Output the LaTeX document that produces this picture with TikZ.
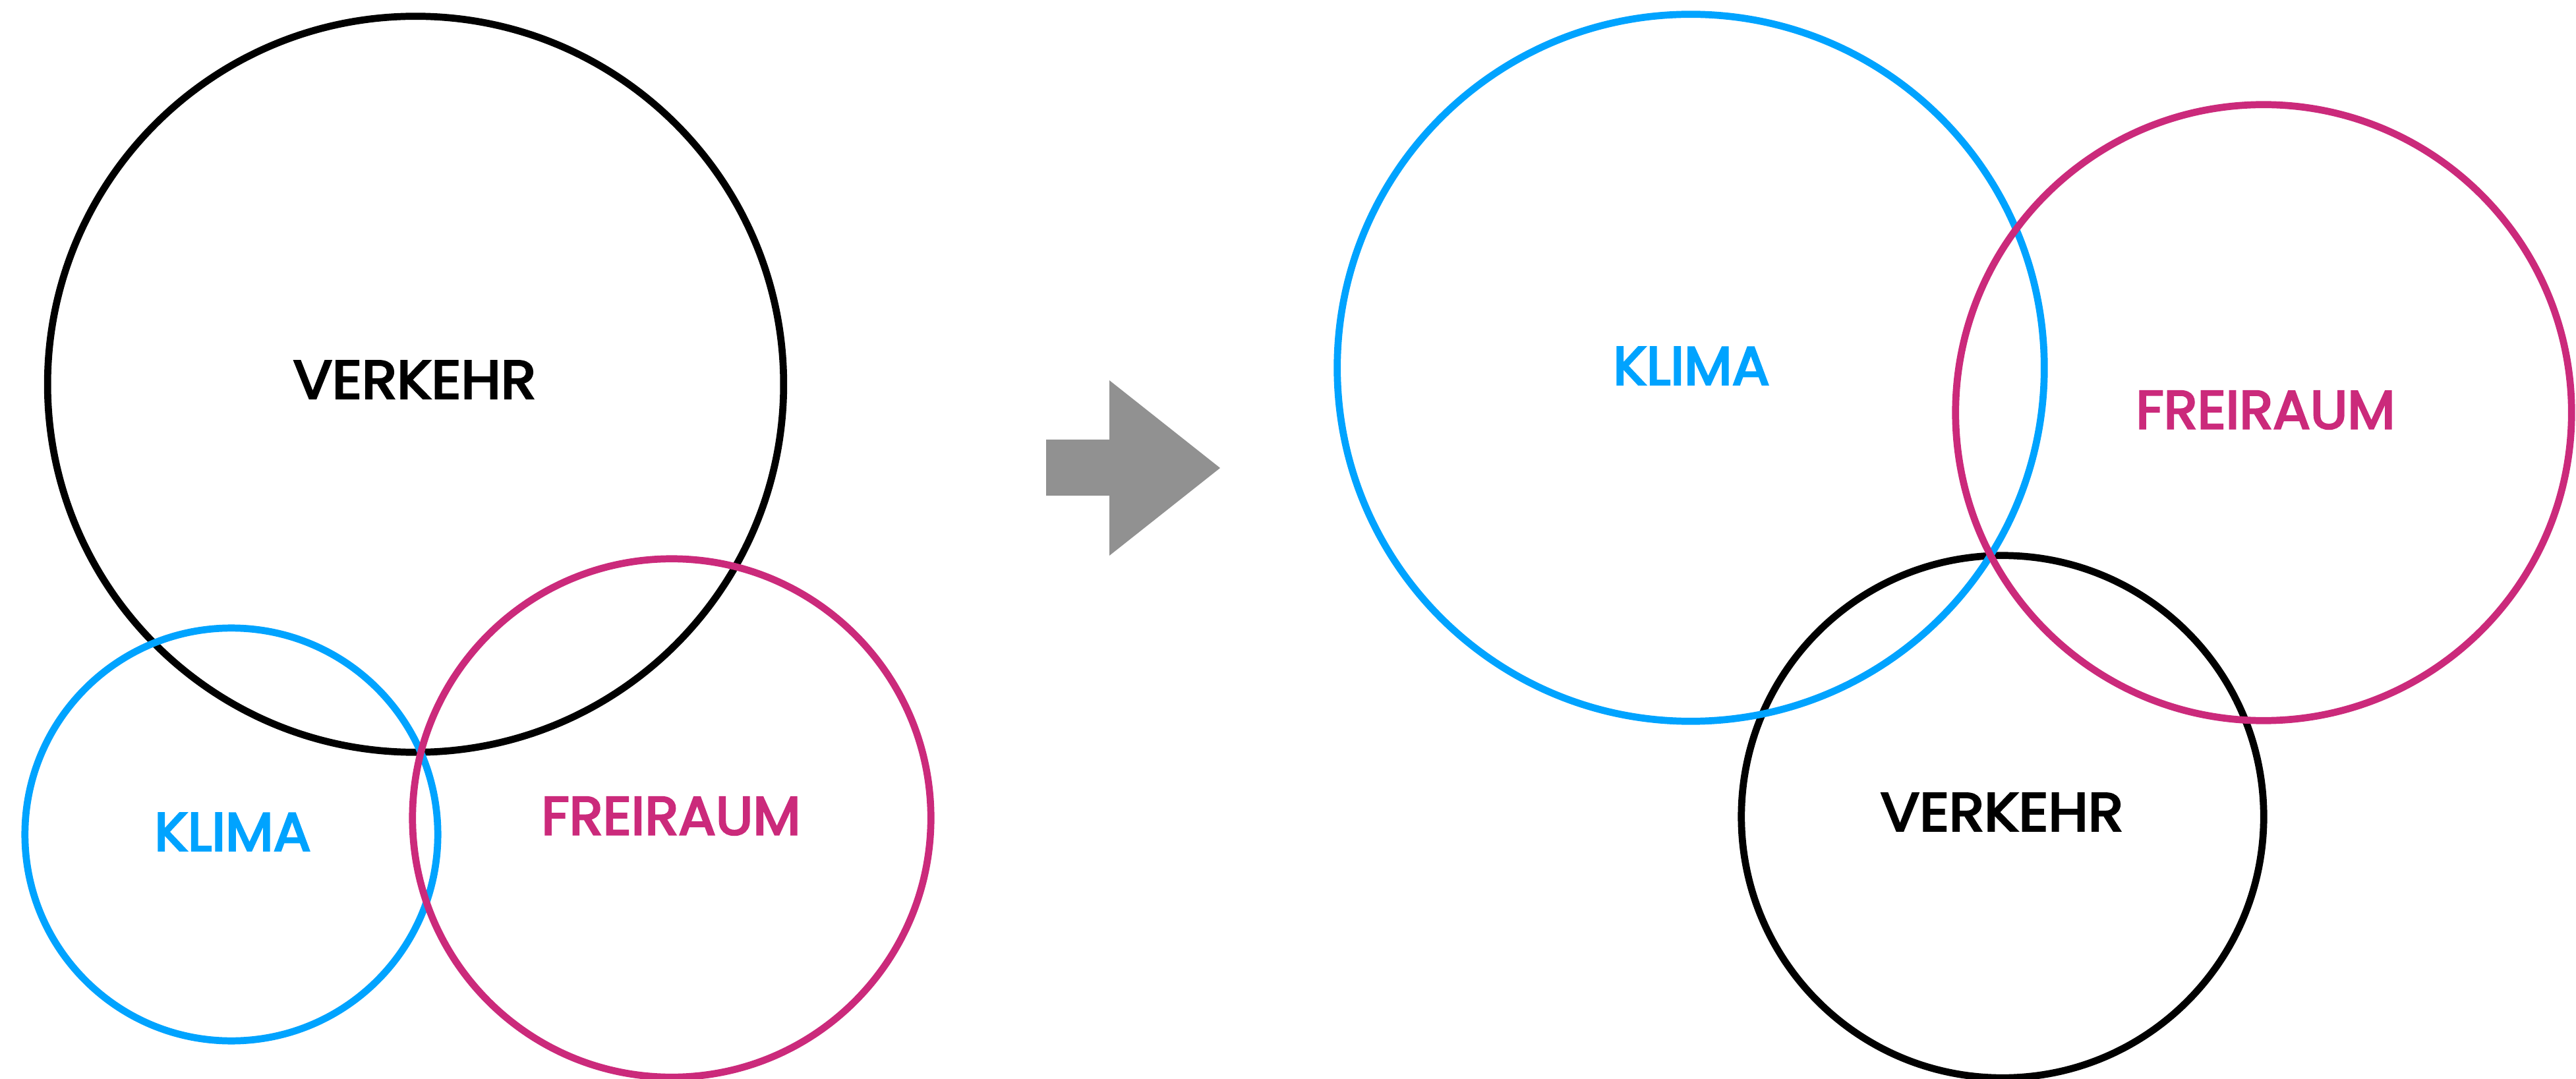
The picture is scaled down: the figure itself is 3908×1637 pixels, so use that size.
\documentclass[tikz,border=0pt]{standalone}
\usepackage{fontspec}
\setmainfont{Poppins}
\newfontfamily\lblfont{Poppins}[FakeBold=3.5]
\definecolor{klimablue}{HTML}{00A3FF}
\definecolor{freipink}{HTML}{CB2A7B}
\definecolor{arrowgray}{HTML}{919191}
\newcommand{\lbltext}[2]{\resizebox{#1}{0.57cm}{\lblfont #2}}
\begin{document}
\begin{tikzpicture}[x=0.01cm,y=-0.01cm,
  ring/.style={circle,draw,line width=3.05pt,inner sep=0pt,minimum size=#1},
  lbl/.style={inner sep=0pt}]
\path[use as bounding box] (0,0) rectangle (3908,1637);
% left group
\node[ring=11.16cm,draw=black] (lverkehr) at (630.5,583) {};
\node[ring=6.26cm,draw=klimablue] (lklima) at (351,1266) {};
\node[ring=7.86cm,draw=freipink] (lfrei) at (1019,1241) {};
\node[lbl,text=black] (lverkehrtxt) at (629,576) {\lbltext{3.68cm}{VERKEHR}};
\node[lbl,text=klimablue] (lklimatxt) at (353,1262) {\lbltext{2.37cm}{KLIMA}};
\node[lbl,text=freipink] (lfreitxt) at (1018,1238) {\lbltext{3.93cm}{FREIRAUM}};
% arrow
\fill[arrowgray] (1587,667) -- (1683,667) -- (1683,577) -- (1851,710) -- (1683,843) -- (1683,752) -- (1587,752) -- cycle;
% right group
\node[ring=7.92cm,draw=black] (rverkehr) at (3038,1239) {};
\node[ring=10.72cm,draw=klimablue] (rklima) at (2565,558) {};
\node[ring=9.34cm,draw=freipink] (rfrei) at (3434,626) {};
\node[lbl,text=klimablue] (rklimatxt) at (2566,555) {\lbltext{2.37cm}{KLIMA}};
\node[lbl,text=freipink] (rfreitxt) at (3437,622) {\lbltext{3.93cm}{FREIRAUM}};
\node[lbl,text=black] (rverkehrtxt) at (3037,1232) {\lbltext{3.68cm}{VERKEHR}};
\end{tikzpicture}
\end{document}
